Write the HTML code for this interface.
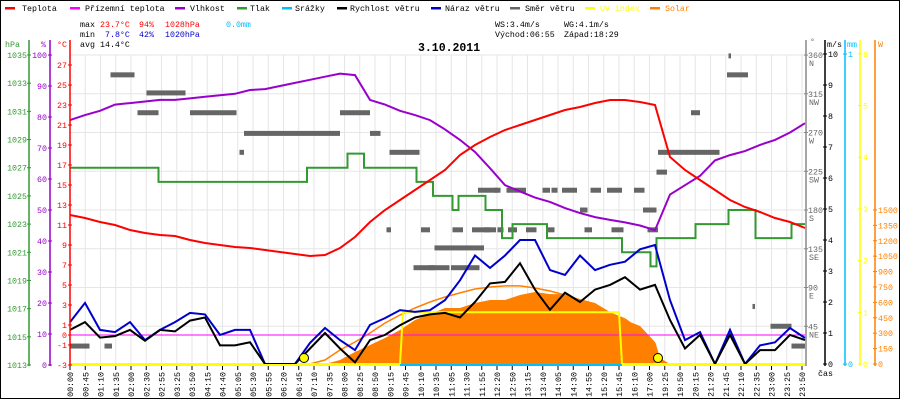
<!DOCTYPE html>
<html><head><meta charset="utf-8"><style>
html,body{margin:0;padding:0;background:#fff;}
svg{display:block;font-family:"Liberation Mono",monospace;}
</style></head><body>
<svg id="chart" width="900" height="400" viewBox="0 0 900 400" xmlns="http://www.w3.org/2000/svg">
<rect x="0" y="0" width="900" height="400" fill="#fff"/>
<g id="grid"></g>
<g id="marks"></g>
<g id="axes"></g>
<g font-size="8.3">
 <g><rect x="5" y="7" width="10" height="2.5" fill="#ff0000"/><text x="22" y="11">Teplota</text></g>
 <g><rect x="70" y="7" width="10" height="2.5" fill="#ff00ff"/><text x="85" y="11">Přízemní teplota</text></g>
 <g><rect x="175" y="7" width="10" height="2.5" fill="#9900cc"/><text x="190" y="11">Vlhkost</text></g>
 <g><rect x="237" y="7" width="10" height="2.5" fill="#339933"/><text x="250" y="11">Tlak</text></g>
 <g><rect x="282" y="7" width="10" height="2.5" fill="#00bfff"/><text x="295" y="11">Srážky</text></g>
 <g><rect x="337" y="7" width="10" height="2.5" fill="#000"/><text x="350" y="11">Rychlost větru</text></g>
 <g><rect x="431" y="7" width="10" height="2.5" fill="#0000cc"/><text x="445" y="11">Náraz větru</text></g>
 <g><rect x="510" y="7" width="10" height="2.5" fill="#666"/><text x="525" y="11">Směr větru</text></g>
 <g><rect x="585" y="7" width="10" height="2.5" fill="#ffff00"/><text x="600" y="11" fill="#ffff00">UV index</text></g>
 <g><rect x="650" y="7" width="10" height="2.5" fill="#ff8000"/><text x="665" y="11" fill="#ff8000">Solar</text></g>
</g>
<g font-size="8.3">
 <text x="80" y="27">max</text><text x="100" y="27" fill="#ff0000">23.7°C</text><text x="139" y="27" fill="#ff0000">94%</text><text x="165" y="27" fill="#ff0000">1028hPa</text><text x="226" y="27" fill="#00bfff">0.0mm</text>
 <text x="80" y="37">min</text><text x="105" y="37" fill="#0000cc">7.8°C</text><text x="139" y="37" fill="#0000cc">42%</text><text x="165" y="37" fill="#0000cc">1020hPa</text>
 <text x="80" y="47">avg</text><text x="100" y="47">14.4°C</text>
 <text x="495" y="27">WS:3.4m/s</text><text x="564" y="27">WG:4.1m/s</text>
 <text x="495" y="37">Východ:06:55</text><text x="564" y="37">Západ:18:29</text>
</g>
<text x="418" y="51" font-size="11.5" font-weight="bold">3.10.2011</text>
<rect x="0.5" y="0.5" width="899" height="398" fill="none" stroke="#000" stroke-width="1"/>
</svg>
<script>
// ---- data (index 0..49 = sample positions across the day) ----
const xLabels = ["00:00","00:45","01:10","01:35","02:00","02:30","02:55","03:25","03:50","04:15","04:40","05:05","05:30","05:55","06:20","06:45","07:10","07:35","08:00","08:25","08:50","09:15","09:45","10:10","10:35","11:05","11:30","11:55","12:20","12:50","13:15","13:40","14:05","14:30","14:55","15:20","15:45","16:10","17:00","19:25","19:50","20:15","21:20","21:45","22:10","22:35","23:00","23:25","23:50"];
const temperature = [12,11.7,11.3,11,10.5,10.2,10,9.9,9.5,9.2,9,8.8,8.7,8.5,8.3,8.1,7.9,8,8.7,9.8,11.3,12.5,13.5,14.5,15.5,16.5,18,19,19.8,20.5,21,21.5,22,22.5,22.8,23.2,23.5,23.5,23.3,23,17.8,16.5,15.5,14.5,13.5,12.8,12.3,11.7,11.3,10.7];
const humidity = [79,80.6,82,84,84.5,85,85.5,85.5,86,86.5,87,87.5,88.7,89,90,91,92,93,94,93.5,85.5,84,82,80.6,79,76,72.6,68.7,63.5,58,56,54,52.6,50.6,49,47.7,46.8,46,45,43.5,55,58,61,66,67.7,69,71,72.6,75,78];
const pressureIdx = [0,5.9,15.8,18.5,19.6,23.1,24.2,25.5,25.9,27.7,28.8,29.5,31.8,36.8,38.7,39.1,41.7,43.9,45.7,48.1,49];
const pressure = [1027,1026,1027,1028,1027,1026,1025,1024,1025,1024,1022,1023,1022,1021,1020,1022,1023,1024,1022,1023,1023];
const windSpeed = [1.1,1.35,0.85,0.9,1.1,0.75,1.1,1.05,1.4,1.5,0.6,0.6,0.7,0,0,0,0.5,1.0,0.5,0.05,0.77,0.94,1.25,1.5,1.6,1.65,1.5,2.0,2.6,2.65,3.25,2.4,1.75,2.3,2.0,2.4,2.55,2.8,2.4,2.55,1.42,0.5,0.94,0,0.94,0,0.45,0.45,0.94,0.77];
const windGust = [1.35,1.97,1.1,1.03,1.35,0.77,1.1,1.35,1.65,1.6,0.94,1.1,1.1,0,0,0,0.68,1.16,0.77,0.45,1.26,1.48,1.74,1.68,1.74,2.06,2.7,3.5,3.1,3.5,4.0,4.0,3.03,2.87,3.5,3.03,3.2,3.3,3.7,3.84,2.06,0.77,1.03,0,1.1,0,0.6,0.7,1.16,0.84];
const solarIdx = [17,18,19,20,21,22,23,24,25,26,27,28,29,30,31,32,33,34,35,36,37,38,39,39.3,40];
const solar = [0,39,117,185,253,331,428,487,545,545,594,623,623,672,701,681,681,633,594,506,428,370,214,60,0];
const solarMax = [0,39,136,214,302,399,477,545,604,652,692,730,750,760,760,740,711,672,623,565,497,438,331,200,0];
const solarMaxIdx = [16,17,18,19,20,21,22,23,24,25,26,27,28,29,30,31,32,33,34,35,36,37,38,39,39.4];
const uvIdx = [0,22,22.2,36.6,36.8,49];
const uvIndex = [0,0,1,1,0,0];
const dirStart = [0,2.3,2.7,4.5,5.1,8,11.3,11.6,18,20,21.3,22.9,23.9,25.4,24.3,25.8,27.2,28.3,29.1,31.5,32.1,32.8,34.7,35.8,37.6,38.2,39.1,39.2,41.4,43.8,43.9,45.5,46.7,48.1,21.1,23.4,25.5,26.8,27.6,28.5,29.2,30.4,31.8,34.3,36.1,38.5,34,38.7];
const dirEnd = [1.3,2.8,4.3,5.9,7.7,11.1,11.6,18,20,20.7,23.3,24.3,25.3,25.8,27.6,27.3,28.5,28.7,30.4,32,32.5,33.8,35.4,36.8,38.3,39.1,39.8,43.3,42,45.2,44,45.6,48.1,49,21.4,24,26.2,28,28.4,28.9,29.8,31.1,32.3,34.8,36.9,39.2,34.5,38.9];
const dirDeg = [22,22,337,293,316,293,247,269,293,269,247,113,113,113,136,113,203,203,203,203,203,203,203,203,203,180,224,247,293,337,359,68,45,22,157,157,157,157,157,157,157,157,157,157,157,157,180,180];

// ---- scales ----
const X0 = 70, DX = 15;
const xs = i => X0 + i * DX;
const yT = t => 365 - (t + 3) * 10;
const yH = p => 365 - p * 3.1;
const yP = h => 365 - (h - 1013) * (310 / 22);
const yW = v => 364 - v * 31;
const yS = w => 364 - w * 0.1027;
const yUV = u => 364 - u * 51.7;
const yD = d => 365 - d * 0.861;

const NS = "http://www.w3.org/2000/svg";
function mk(tag, attrs, parent) {
  const el = document.createElementNS(NS, tag);
  for (const k in attrs) el.setAttribute(k, attrs[k]);
  parent.appendChild(el);
  return el;
}
const grid = document.getElementById('grid');
const marks = document.getElementById('marks');
const axes = document.getElementById('axes');

// grid
for (let k = 0; k < xLabels.length; k++) {
  const x = X0 + k * 15.25;
  const l = mk('line', {x1: x, y1: 55, x2: x, y2: 364, stroke: '#e6e6e6', 'stroke-width': 1}, grid);
  
  
}
for (let d = 0; d <= 360; d += 45) {
  const l = mk('line', {x1: 70, y1: yD(d), x2: 805, y2: yD(d), stroke: '#e6e6e6', 'stroke-width': 1}, grid);
  
  
}

function pathFrom(idx, vals, yf) {
  return idx.map((i, k) => (k ? 'L' : 'M') + xs(i).toFixed(1) + ',' + yf(vals[k]).toFixed(1)).join(' ');
}
const seqIdx = temperature.map((_, i) => i);

// solar area
const sArea = mk('path', {d: pathFrom(solarIdx, solar, yS) + ` L${xs(solarIdx[solarIdx.length-1])},364 L${xs(solarIdx[0])},364 Z`, fill: '#ff8000', stroke: 'none'}, marks);


const sMax = mk('path', {d: pathFrom(solarMaxIdx, solarMax, yS), fill: 'none', stroke: '#ff8000', 'stroke-width': 1.5}, marks);



// zero feels-like line
const zl = mk('line', {x1: 70, y1: yT(0), x2: 805, y2: yT(0), stroke: '#ff00ff', 'stroke-width': 1}, marks);



// wind direction dashes
for (let k = 0; k < dirDeg.length; k++) {
  const r = mk('rect', {x: xs(dirStart[k]), y: yD(dirDeg[k]) - 2.5, width: Math.max(2.5, (dirEnd[k] - dirStart[k]) * DX), height: 5, fill: '#666'}, marks);
  
  
}

// UV
const uv = mk('path', {d: pathFrom(uvIdx, uvIndex, yUV), fill: 'none', stroke: '#ffff00', 'stroke-width': 2}, marks);



// pressure steps
let pd = '';
for (let k = 0; k < pressure.length; k++) {
  const x = xs(pressureIdx[k]), y = yP(pressure[k]);
  pd += (k ? `L${x},${yP(pressure[k-1])} L${x},${y} ` : `M${x},${y} `);
}
const pp = mk('path', {d: pd, fill: 'none', stroke: '#339933', 'stroke-width': 2}, marks);



const hp = mk('path', {d: pathFrom(seqIdx, humidity, yH), fill: 'none', stroke: '#9900cc', 'stroke-width': 2}, marks);



const tp = mk('path', {d: pathFrom(seqIdx, temperature, yT), fill: 'none', stroke: '#ff0000', 'stroke-width': 2}, marks);



const gp = mk('path', {d: pathFrom(seqIdx, windGust, yW), fill: 'none', stroke: '#0000cc', 'stroke-width': 2}, marks);



const wp = mk('path', {d: pathFrom(seqIdx, windSpeed, yW), fill: 'none', stroke: '#000', 'stroke-width': 2}, marks);



// bottom baseline
const bl = mk('line', {x1: 70, y1: 365, x2: 805, y2: 365, stroke: '#ffff00', 'stroke-width': 2}, axes);


const rl = mk('line', {x1: xs(22), y1: 365, x2: xs(36.8), y2: 365, stroke: '#00bfff', 'stroke-width': 2}, axes);



// sun markers
[304, 658].forEach((x, k) => {
  const c = mk('circle', {cx: x, cy: 358, r: 4.5, fill: '#ffff00', stroke: '#000', 'stroke-width': 1}, marks);
  
  
});

// x labels
for (let k = 0; k < xLabels.length; k++) {
  const x = X0 + k * 15.25;
  mk('line', {x1: x, y1: 366, x2: x, y2: 370, stroke: '#000', 'stroke-width': 1}, axes);
  const t = mk('text', {x: 0, y: 0, 'font-size': 8.3, 'text-anchor': 'end', transform: `translate(${x + 3},372) rotate(-90)`}, axes);
  t.textContent = xLabels[k];
  
  
}
const cas = mk('text', {x: 818, y: 376, 'font-size': 8.3}, axes);
cas.textContent = 'čas';



// vertical axes
function vAxis(x, color, ticks, yf, labelX, anchor, title, titleX, name, fmt) {
  const g = mk('g', {}, axes);
  
  
  mk('line', {x1: x, y1: 40, x2: x, y2: 366, stroke: color, 'stroke-width': 1.5}, g);
  const tt = mk('text', {x: titleX, y: 47, 'font-size': 8.3, fill: color}, g);
  tt.textContent = title;
  ticks.forEach(v => {
    const y = yf(v);
    mk('line', {x1: x - 2, y1: y, x2: x + 2, y2: y, stroke: color, 'stroke-width': 1}, g);
    const t = mk('text', {x: labelX, y: y + 3, 'font-size': 8.3, fill: color, 'text-anchor': anchor}, g);
    t.textContent = fmt ? fmt(v) : v;
  });
}
vAxis(29, '#339933', [1035,1033,1031,1029,1027,1025,1023,1021,1019,1017,1015,1013], yP, 27, 'end', 'hPa', 5, 'axis-hpa');
vAxis(50, '#9900cc', [100,90,80,70,60,50,40,30,20,10,0], yH, 47, 'end', '%', 41, 'axis-humidity');
vAxis(70, '#ff0000', [27,25,23,21,19,17,15,13,11,9,7,5,3,1,0,-1,-3], yT, 67, 'end', '°C', 57, 'axis-temperature');
vAxis(825, '#000', [10,9,8,7,6,5,4,3,2,1,0], yW, 828, 'start', 'm/s', 827, 'axis-wind');
vAxis(845, '#00bfff', [1,0], v => 364 - v * 310, 848, 'start', 'mm', 847, 'axis-rain');
vAxis(860, '#ffff00', [6,5,4,3,2,1,0], yUV, 863, 'start', '', 862, 'axis-uv');
vAxis(875, '#ff8000', [1500,1350,1200,1050,900,750,600,450,300,150,0], yS, 878, 'start', 'W', 878, 'axis-solar');

// direction axis
const dg = mk('g', {}, axes);


mk('line', {x1: 806, y1: 40, x2: 806, y2: 366, stroke: '#888', 'stroke-width': 1.5}, dg);
const dt = mk('text', {x: 810, y: 44, 'font-size': 8.3, fill: '#666'}, dg);
dt.textContent = '°';
const dirTicks = [360,315,270,225,180,135,90,45];
const dirNames = ['N','NW','W','SW','S','SE','E','NE'];
dirTicks.forEach((d, k) => {
  const y = yD(d);
  mk('line', {x1: 804, y1: y, x2: 808, y2: y, stroke: '#888'}, dg);
  const t1 = mk('text', {x: 808, y: y + 3, 'font-size': 8.3, fill: '#666'}, dg);
  t1.textContent = d;
  const t2 = mk('text', {x: 809, y: y + 11, 'font-size': 8.3, fill: '#666'}, dg);
  t2.textContent = dirNames[k];
});
</script>
</body></html>
